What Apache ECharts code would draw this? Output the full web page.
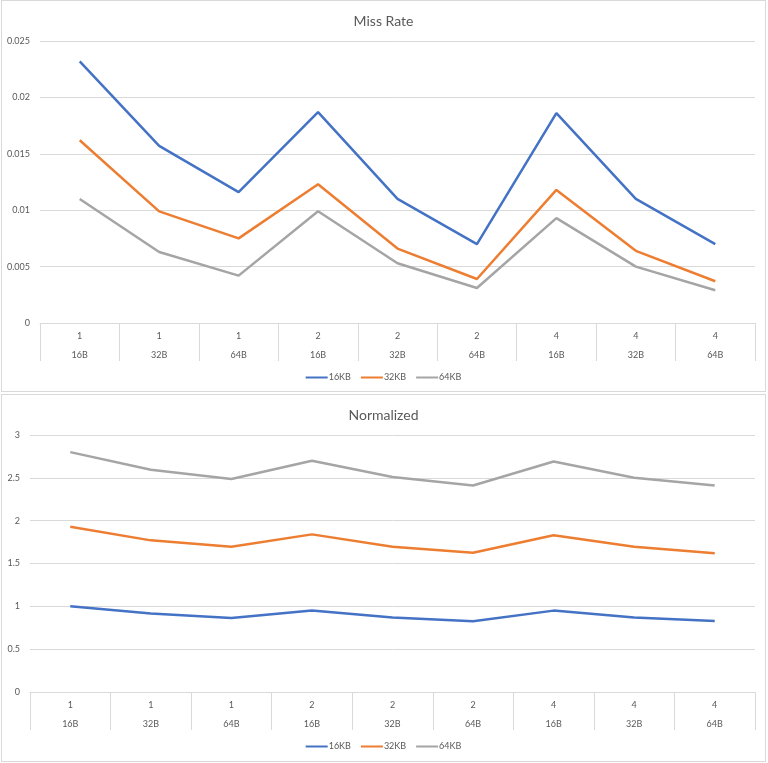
<!DOCTYPE html>
<html>
<head>
<meta charset="utf-8">
<script src="https://cdn.jsdelivr.net/npm/echarts@6/dist/echarts.min.js"></script>
<style>
  html, body { margin: 0; padding: 0; background: #fff; }
  .box { position: absolute; left: 1px; width: 763px; border: 1px solid #d9d9d9; background: #fff; }
  #c1 { top: 0px; height: 390px; }
  #c2 { top: 394px; height: 366px; }
</style>
</head>
<body>
<div id="c1" class="box"></div>
<div id="c2" class="box"></div>
<script>
const associativity = ['1', '1', '1', '2', '2', '2', '4', '4', '4'];
const blockSizes = ['16B', '32B', '64B', '16B', '32B', '64B', '16B', '32B', '64B'];
const seriesNames = ['16KB', '32KB', '64KB'];

const missRate16KB = [0.0232, 0.0157, 0.0116, 0.0187, 0.0110, 0.0070, 0.0186, 0.0110, 0.0070];
const missRate32KB = [0.0162, 0.0099, 0.0075, 0.0123, 0.0066, 0.0039, 0.0118, 0.0064, 0.0037];
const missRate64KB = [0.0110, 0.0063, 0.0042, 0.0099, 0.0053, 0.0031, 0.0093, 0.0050, 0.0029];

const norm16KB = [1.00, 0.915, 0.865, 0.95, 0.87, 0.826, 0.95, 0.87, 0.83];
const norm32KB = [1.93, 1.77, 1.695, 1.84, 1.695, 1.625, 1.83, 1.695, 1.62];
const norm64KB = [2.80, 2.595, 2.486, 2.70, 2.51, 2.41, 2.69, 2.50, 2.41];

const colors = ['#4472C4', '#ED7D31', '#A5A5A5'];
const FONT = 'Lato, "Open Sans", sans-serif';
const categories = associativity.map((a, i) => a + '\n' + blockSizes[i]);

function makeOption(title, data, yMax, yInterval, gridLeft, gridBottom, legendTop) {
  return {
    animation: false,
    color: colors,
    title: {
      text: title, left: 'center', top: 8,
      textStyle: { fontFamily: FONT, fontSize: 14, fontWeight: 'normal', color: '#595959' }
    },
    legend: {
      data: seriesNames, top: legendTop, left: 'center',
      icon: 'rect', itemWidth: 22, itemHeight: 2, itemGap: 10,
      textStyle: { fontFamily: FONT, fontSize: 9, color: '#595959', padding: [0, 0, 0, -4] }
    },
    grid: { left: gridLeft, right: 10, top: 40, bottom: gridBottom },
    xAxis: {
      type: 'category', data: categories, boundaryGap: true,
      axisLine: { show: true, lineStyle: { color: '#d9d9d9', width: 1 } },
      axisTick: { show: true, length: 38, lineStyle: { color: '#d9d9d9' } },
      axisLabel: {
        interval: 0, margin: 4, lineHeight: 19,
        fontFamily: FONT, fontSize: 9, color: '#595959'
      }
    },
    yAxis: {
      type: 'value', min: 0, max: yMax, interval: yInterval,
      axisLine: { show: false }, axisTick: { show: false },
      splitLine: { lineStyle: { color: '#d9d9d9', width: 1 } },
      axisLabel: { margin: 10, fontFamily: FONT, fontSize: 9, color: '#595959' }
    },
    series: seriesNames.map((n, i) => ({
      name: n, type: 'line', data: data[i], symbol: 'none',
      lineStyle: { width: 2.5, color: colors[i] }
    }))
  };
}

const ch1 = echarts.init(document.getElementById('c1'));
ch1.setOption(makeOption('Miss Rate', [missRate16KB, missRate32KB, missRate64KB], 0.025, 0.005, 38, 68, 367));
const ch2 = echarts.init(document.getElementById('c2'));
ch2.setOption(makeOption('Normalized', [norm16KB, norm32KB, norm64KB], 3, 0.5, 28, 69, 342));
</script>
</body>
</html>
